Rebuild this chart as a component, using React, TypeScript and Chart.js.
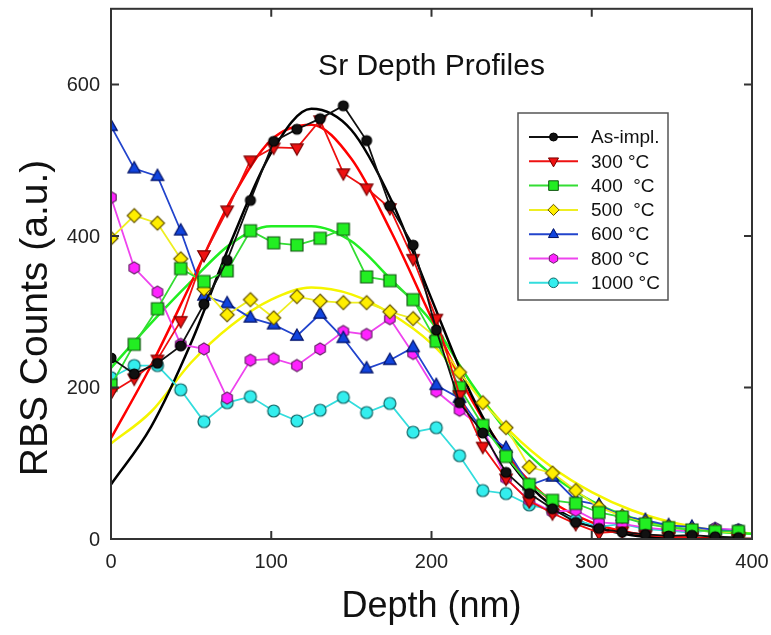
import React, { useEffect, useRef } from 'react';
import { Chart, registerables } from 'chart.js';
Chart.register(...registerables);

const depth = [0, 14.5, 29, 43.5, 58, 72.5, 87, 101.5, 116, 130.5, 145, 159.5, 174, 188.5, 203, 217.5, 232, 246.5, 261, 275.5, 290, 304.5, 319, 333.5, 348, 362.5, 377, 391.5];
const asImpl = [239, 218, 232, 255, 310, 368, 447, 525, 541, 555, 572, 526, 440, 388, 276, 180, 140, 88, 60, 40, 22, 14, 9, 6, 4, 5, 3, 2];
const c300 = [193, 212, 237, 288, 375, 434, 500, 517, 516, 553, 483, 463, 437, 370, 291, 190, 122, 80, 50, 34, 20, 8, 10, 5, 3, 2, -2, 0];
const c400 = [203, 257, 304, 357, 340, 354, 407, 391, 388, 397, 409, 346, 341, 316, 261, 200, 150, 109, 72, 51, 47, 35, 29, 20, 15, 12, 10, 10];
const c500 = [397, 427, 417, 370, 330, 296, 316, 292, 320, 314, 312, 312, 300, 291, 266, 220, 180, 147, 95, 87, 64, 42, 30, 21, 15, 12, 10, 8];
const c600 = [545, 489, 479, 407, 321, 311, 292, 283, 268, 297, 265, 225, 236, 253, 203, 186, 143, 120, 71, 82, 51, 45, 30, 25, 18, 16, 12, 10];
const c800 = [451, 358, 326, 257, 251, 186, 236, 238, 229, 251, 274, 270, 291, 245, 195, 170, 146, 80, 51, 36, 38, 22, 20, 15, 12, 10, 14, 12];
const c1000 = [213, 229, 229, 197, 155, 180, 188, 169, 156, 170, 187, 167, 179, 141, 147, 110, 64, 60, 45, 38, 25, 16, 20, 13, 11, 8, 13, 12];

const fitDepth = [0, 25, 50, 75, 100, 125, 150, 175, 200, 225, 250, 275, 300, 325, 350, 375, 400];
const fitAsImpl = [72, 148, 259, 393, 510, 568, 540, 447, 317, 190, 99, 44, 17, 5, 1, 0, 0];
const fit300 = [133, 229, 338, 448, 527, 547, 502, 405, 292, 184, 103, 50, 22, 8, 3, 1, 0];
const fit400 = [226, 285, 340, 390, 413, 413, 393, 342, 287, 205, 135, 85, 50, 28, 16, 10, 7];
const fit500 = [126, 168, 233, 282, 316, 332, 323, 297, 258, 200, 140, 95, 62, 38, 22, 12, 7];

const seriesLabels = ['As-impl.', '300 °C', '400  °C', '500  °C', '600 °C', '800 °C', '1000 °C'];
const xTicks = [0, 100, 200, 300, 400];
const yTicks = [0, 200, 400, 600];
const titleText = 'Sr Depth Profiles';
const xTitle = 'Depth (nm)';
const yTitle = 'RBS Counts (a.u.)';

const FONT = "'Liberation Sans', Arial, Helvetica, sans-serif";

type Sty = { line: string; fill: string; stroke: string; shape: string; r: number };
const styles: Sty[] = [
  { line: '#111111', fill: '#111111', stroke: '#000000', shape: 'circle', r: 5 },
  { line: '#ee1111', fill: '#ee1111', stroke: '#7a0000', shape: 'triDown', r: 7 },
  { line: '#33dd33', fill: '#22ee22', stroke: '#115511', shape: 'square', r: 6 },
  { line: '#eeee22', fill: '#ffee00', stroke: '#665500', shape: 'diamond', r: 7 },
  { line: '#2244cc', fill: '#1144dd', stroke: '#001166', shape: 'triUp', r: 7 },
  { line: '#ee44ee', fill: '#ff22ff', stroke: '#662266', shape: 'hex', r: 6 },
  { line: '#33dddd', fill: '#33eeee', stroke: '#116666', shape: 'circle', r: 6 },
];

function shapePath(ctx: CanvasRenderingContext2D, shape: string, x: number, y: number, r: number) {
  ctx.beginPath();
  if (shape === 'circle') {
    ctx.arc(x, y, r, 0, Math.PI * 2);
  } else if (shape === 'square') {
    ctx.rect(x - r, y - r, 2 * r, 2 * r);
  } else if (shape === 'diamond') {
    ctx.moveTo(x, y - r); ctx.lineTo(x + r, y); ctx.lineTo(x, y + r); ctx.lineTo(x - r, y); ctx.closePath();
  } else if (shape === 'triUp') {
    ctx.moveTo(x, y - r); ctx.lineTo(x + r * 0.9, y + r * 0.6); ctx.lineTo(x - r * 0.9, y + r * 0.6); ctx.closePath();
  } else if (shape === 'triDown') {
    ctx.moveTo(x, y + r); ctx.lineTo(x + r * 0.9, y - r * 0.6); ctx.lineTo(x - r * 0.9, y - r * 0.6); ctx.closePath();
  } else if (shape === 'hex') {
    for (let k = 0; k < 6; k++) {
      const a = -Math.PI / 2 + (k * Math.PI) / 3;
      const px = x + r * Math.cos(a);
      const py = y + r * Math.sin(a);
      if (k === 0) ctx.moveTo(px, py); else ctx.lineTo(px, py);
    }
    ctx.closePath();
  }
}

function markerCanvas(s: Sty): HTMLCanvasElement {
  const size = Math.ceil(s.r * 2 + 4);
  const c = document.createElement('canvas');
  c.width = size; c.height = size;
  const ctx = c.getContext('2d')!;
  shapePath(ctx, s.shape, size / 2, size / 2, s.r);
  ctx.fillStyle = s.fill; ctx.fill();
  ctx.lineWidth = 1.2; ctx.strokeStyle = s.stroke; ctx.stroke();
  return c;
}

const decor = {
  id: 'decor',
  afterDatasetsDraw(chart: any) {
    const { ctx, chartArea: a, scales } = chart;
    ctx.save();
    ctx.strokeStyle = '#333';
    ctx.lineWidth = 2;
    ctx.strokeRect(a.left, a.top, a.right - a.left, a.bottom - a.top);
    const tl = 8;
    ctx.beginPath();
    for (const v of xTicks) {
      const x = scales.x.getPixelForValue(v);
      ctx.moveTo(x, a.bottom); ctx.lineTo(x, a.bottom - tl);
      ctx.moveTo(x, a.top); ctx.lineTo(x, a.top + tl);
    }
    for (const v of yTicks) {
      const y = scales.y.getPixelForValue(v);
      ctx.moveTo(a.left, y); ctx.lineTo(a.left + tl, y);
      ctx.moveTo(a.right, y); ctx.lineTo(a.right - tl, y);
    }
    ctx.stroke();
    ctx.fillStyle = '#222';
    ctx.font = `20px ${FONT}`;
    ctx.textAlign = 'center';
    ctx.textBaseline = 'middle';
    for (const v of xTicks) {
      ctx.fillText(String(v), scales.x.getPixelForValue(v), a.bottom + 23);
    }
    ctx.textAlign = 'right';
    for (const v of yTicks) {
      ctx.fillText(String(v), a.left - 11, scales.y.getPixelForValue(v) + 1);
    }
    ctx.restore();
  },
  afterDraw(chart: any) {
    const { ctx, chartArea: a } = chart;
    ctx.save();
    ctx.fillStyle = '#111';
    ctx.font = `30px ${FONT}`;
    ctx.textAlign = 'center';
    ctx.textBaseline = 'middle';
    ctx.fillText(titleText, (a.left + a.right) / 2, 67);
    ctx.font = `36px ${FONT}`;
    ctx.fillText(xTitle, (a.left + a.right) / 2, 607);
    ctx.save();
    ctx.translate(36, 318);
    ctx.rotate(-Math.PI / 2);
    ctx.font = `39px ${FONT}`;
    ctx.fillText(yTitle, 0, 0);
    ctx.restore();
    const bx = 518, by = 113, bw = 150, bh = 187;
    ctx.fillStyle = '#fff';
    ctx.fillRect(bx, by, bw, bh);
    ctx.strokeStyle = '#555';
    ctx.lineWidth = 1.5;
    ctx.strokeRect(bx, by, bw, bh);
    ctx.font = `19px ${FONT}`;
    ctx.textAlign = 'left';
    ctx.textBaseline = 'middle';
    seriesLabels.forEach((lab, i) => {
      const s = styles[i];
      const y = 137 + i * 24.3;
      ctx.strokeStyle = s.line;
      ctx.lineWidth = 2;
      ctx.beginPath(); ctx.moveTo(529, y); ctx.lineTo(578, y); ctx.stroke();
      shapePath(ctx, s.shape, 553.5, y, s.r * 0.8);
      ctx.fillStyle = s.fill; ctx.fill();
      ctx.lineWidth = 1; ctx.strokeStyle = s.stroke; ctx.stroke();
      ctx.fillStyle = '#111';
      ctx.fillText(lab, 591, y + 1);
    });
    ctx.restore();
  },
};

export default function App() {
  const ref = useRef<HTMLCanvasElement>(null);
  useEffect(() => {
    document.body.style.margin = '0';
    const dataSets = [asImpl, c300, c400, c500, c600, c800, c1000];
    const fits = [fitAsImpl, fit300, fit400, fit500];
    const fitColors = ['#000000', '#ff0000', '#22ee22', '#f5f500'];
    const datasets: any[] = [];
    fits.forEach((f, i) => {
      datasets.push({
        label: 'fit ' + seriesLabels[i],
        data: fitDepth.map((x, k) => ({ x, y: f[k] })),
        borderColor: fitColors[i],
        borderWidth: 2.5,
        pointRadius: 0,
        cubicInterpolationMode: 'monotone',
        tension: 0.4,
        fill: false,
        order: 2,
      });
    });
    dataSets.forEach((d, i) => {
      const s = styles[i];
      datasets.push({
        label: seriesLabels[i],
        data: depth.map((x, k) => ({ x, y: d[k] })),
        borderColor: s.line,
        borderWidth: 1.8,
        pointStyle: markerCanvas(s),
        pointRadius: s.r,
        fill: false,
        order: 1,
      });
    });
    const chart = new Chart(ref.current!, {
      type: 'line',
      data: { datasets },
      options: {
        animation: false,
        responsive: false,
        maintainAspectRatio: false,
        layout: { padding: { top: 7, right: 19, left: 0, bottom: 0 } },
        plugins: { legend: { display: false }, tooltip: { enabled: false }, title: { display: false } },
        scales: {
          x: {
            type: 'linear',
            min: 0,
            max: 400,
            grid: { display: false, drawTicks: false },
            border: { display: false },
            ticks: { display: false },
            afterBuildTicks: (s: any) => { s.ticks = xTicks.map((v) => ({ value: v })); },
            afterFit: (s: any) => { s.height = 96; s.paddingLeft = 0; s.paddingRight = 0; },
          },
          y: {
            type: 'linear',
            min: 0,
            max: 700,
            grid: { display: false, drawTicks: false },
            border: { display: false },
            ticks: { display: false },
            afterBuildTicks: (s: any) => { s.ticks = yTicks.map((v) => ({ value: v })); },
            afterFit: (s: any) => { s.width = 111; s.paddingTop = 0; s.paddingBottom = 0; },
          },
        },
      },
      plugins: [decor],
    });
    return () => chart.destroy();
  }, []);
  return <canvas ref={ref} width={771} height={635} style={{ display: 'block', width: 771, height: 635 }} />;
}
